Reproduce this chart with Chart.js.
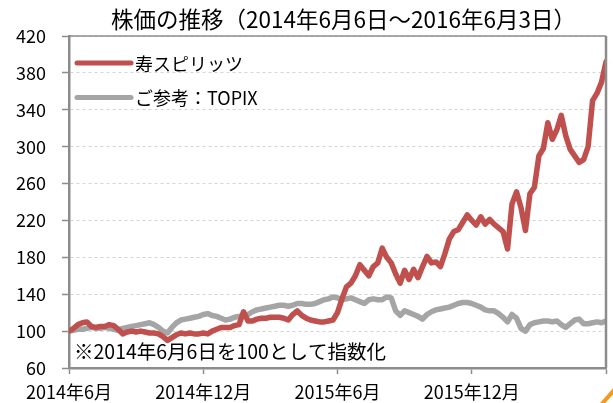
<!DOCTYPE html>
<html><head><meta charset="utf-8">
<script src="https://cdn.jsdelivr.net/npm/chart.js@4/dist/chart.umd.min.js"></script>
<style>html,body{margin:0;padding:0;background:#fff;overflow:hidden}#wrap{position:relative;width:613px;height:403px}</style>
</head><body><div id="wrap"><canvas id="c" width="613" height="403" style="width:613px;height:403px"></canvas></div>
<script>
const chartTitle = "株価の推移（2014年6月6日～2016年6月3日）";
const noteText = "※2014年6月6日を100として指数化";
const seriesNames = ["寿スピリッツ", "ご参考：TOPIX"];
const xTickLabels = ["2014年6月", "2014年12月", "2015年6月", "2015年12月", ""];
const yTickValues = [60, 100, 140, 180, 220, 260, 300, 340, 380, 420];

const kotobukiValues = [
 100,103,107,109,110,105,104,105,105,107,
 106,102,97,99,100,99,100,99,98,98,
 97,94,90,93,96,98,97,98,97,97,
 98,97,100,102,104,104,104,106,107,121,
 111,111,113,114,114,115,115,115,114,112,
 118,122,117,114,112,111,110,110,111,112,
 120,135,148,152,160,172,166,160,170,174,
 190,180,174,162,152,166,156,167,158,170,
 181,174,175,170,184,200,208,210,218,226,
 220,215,224,216,221,216,212,208,189,238,
 251,234,209,249,256,290,298,326,308,318,
 334,312,297,290,283,286,300,350,358,370,
 392];

const topixValues = [
 100,101,102,102,103,104,103,103,104,103,
 102,101,103,104,105,106,107,108,109,107,
 104,100,98,104,109,112,113,114,115,116,
 118,119,117,116,114,112,113,115,116,117,
 118,121,123,124,125,126,127,128,128,127,
 128,130,130,129,129,130,132,134,135,137,
 136,134,135,136,134,132,130,134,135,134,
 134,137,136,122,117,122,120,118,116,113,
 118,121,123,124,125,126,128,130,131,131,
 130,128,126,123,122,122,119,115,110,118,
 114,103,100,107,109,110,111,111,110,111,
 107,104,108,112,113,108,108,109,110,109,
 111];

const FONT = '"Noto Sans CJK JP", "Noto Sans", sans-serif';
const RED = '#C0504D';
const GRAY = '#A5A5A5';
const lastIndex = kotobukiValues.length - 1;
const tickStep = lastIndex / (xTickLabels.length - 1);

const toPoints = arr => arr.map((v, i) => ({x: i, y: v}));

const decorPlugin = {
  id: 'decor',
  afterDraw(chart) {
    const ctx = chart.ctx, a = chart.chartArea;
    ctx.save();
    ctx.strokeStyle = '#8c8c8c';
    ctx.lineWidth = 1.5;
    ctx.beginPath(); ctx.moveTo(a.left, a.top); ctx.lineTo(a.right, a.top); ctx.stroke();
    ctx.lineWidth = 2.5;
    ctx.beginPath(); ctx.moveTo(a.right, a.top); ctx.lineTo(a.right, a.bottom); ctx.stroke();
    ctx.fillStyle = '#000';
    ctx.font = '22.5px ' + FONT;
    ctx.textAlign = 'center'; ctx.textBaseline = 'middle';
    ctx.fillText(chartTitle, (a.left + a.right) / 2 + 6, 19);
    ctx.textAlign = 'left';
    ctx.font = '18px ' + FONT;
    chart.data.datasets.forEach((ds, k) => {
      const y = a.top + 27 + k * 34.5;
      ctx.strokeStyle = ds.borderColor; ctx.lineWidth = 5; ctx.lineCap = 'round';
      ctx.beginPath(); ctx.moveTo(a.left + 8, y); ctx.lineTo(a.left + 62, y); ctx.stroke();
      ctx.fillStyle = '#000';
      ctx.fillText(ds.label, a.left + 66, y + 1);
    });
    ctx.font = '19.5px ' + FONT;
    ctx.fillText(noteText, a.left + 5, a.bottom - 16);
    ctx.strokeStyle = '#F39A1E'; ctx.lineWidth = 4; ctx.lineCap = 'butt';
    ctx.beginPath(); ctx.moveTo(601, 405); ctx.lineTo(615, 389); ctx.stroke();
    ctx.restore();
  }
};

new Chart(document.getElementById('c'), {
  type: 'line',
  data: {
    datasets: [
      {label: seriesNames[0], data: toPoints(kotobukiValues), borderColor: RED, backgroundColor: RED,
       borderWidth: 5.5, pointRadius: 0, tension: 0, borderJoinStyle: 'round', borderCapStyle: 'round'},
      {label: seriesNames[1], data: toPoints(topixValues), borderColor: GRAY, backgroundColor: GRAY,
       borderWidth: 5.5, pointRadius: 0, tension: 0, borderJoinStyle: 'round', borderCapStyle: 'round'}
    ]
  },
  options: {
    responsive: false, maintainAspectRatio: false, animation: false, devicePixelRatio: 1,
    layout: {padding: {left: 0, right: 6, top: 36, bottom: 0}},
    plugins: {legend: {display: false}, title: {display: false}, tooltip: {enabled: false}},
    scales: {
      x: {
        type: 'linear', min: 0, max: lastIndex,
        afterBuildTicks(s) { s.ticks = xTickLabels.map((_, k) => ({value: k * tickStep})); },
        afterFit(s) { s.height = 35; },
        ticks: {autoSkip: false, maxRotation: 0, padding: 7, color: '#000',
                font: {family: FONT, size: 18},
                callback(v) { return xTickLabels[Math.round(v / tickStep)]; }},
        grid: {display: true, drawOnChartArea: false, drawTicks: true, tickLength: 6,
               tickColor: '#8c8c8c', tickWidth: 1.5},
        border: {display: true, color: '#8c8c8c', width: 2.5}
      },
      y: {
        min: 60, max: 420,
        afterBuildTicks(s) { s.ticks = yTickValues.map(v => ({value: v})); },
        afterFit(s) { s.width = 69; },
        ticks: {padding: 16, color: '#000', font: {family: FONT, size: 18}},
        grid: {color: '#d4d4d4', lineWidth: 1, tickLength: 7, tickColor: '#8c8c8c', tickWidth: 1.5, tickBorderDash: []},
        border: {display: true, color: '#8c8c8c', width: 2.5, dash: [3, 3]}
      }
    }
  },
  plugins: [decorPlugin]
});
</script></body></html>
